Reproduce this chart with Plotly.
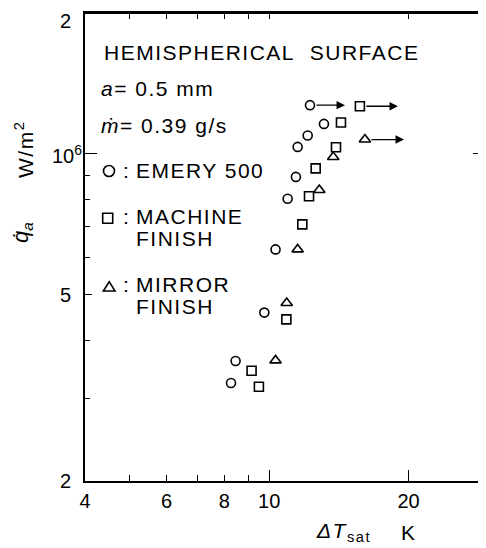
import numpy as np
import plotly.graph_objects as go

# ---------------- data ----------------
emery_dT = [12.25, 13.13, 12.11, 11.52, 11.42, 10.96, 10.32, 9.76, 8.46, 8.27]
emery_q = [1.271e6, 1.159e6, 1.095e6, 1.035e6, 8.93e5, 8.02e5, 6.25e5, 4.58e5, 3.61e5, 3.24e5]

machine_dT = [15.70, 14.29, 13.94, 12.60, 12.19, 11.79, 10.89, 9.16, 9.50]
machine_q = [1.264e6, 1.167e6, 1.033e6, 9.31e5, 8.12e5, 7.07e5, 4.43e5, 3.44e5, 3.18e5]

mirror_dT = [16.10, 13.75, 12.83, 11.52, 10.91, 10.32]
mirror_q = [1.073e6, 9.85e5, 8.37e5, 6.25e5, 4.80e5, 3.62e5]

# arrow tips (burn-out arrows) for emery, machine, mirror
arrow_tip_dT = [14.58, 18.97, 19.55]

x_tick_vals = [4, 6, 8, 10, 20]
x_tick_text = ["4", "6", "8", "10", "20"]
x_minor_vals = [5, 7, 9]
x_long_vals = [10, 20]
x_top_vals = [5, 6, 7, 8, 9, 10, 20]

y_tick_vals = [2e5, 5e5, 1e6]
y_tick_text = ["2", "5", ""]
y_minor_vals = [3e5, 4e5, 6e5, 7e5, 8e5, 9e5]
y_long_vals = [1e6]

x_range = [np.log10(4), np.log10(29.4)]
y_range = [np.log10(2e5), np.log10(2e6)]

# ---------------- geometry ----------------
OFF = 8                      # page body margin
W, H = 478, 540              # figure size (page area minus body margin)
L, R, T, B = 77, 0, 5, 67
PW, PH = W - L - R, H - T - B


def px(x):                   # page pixel -> paper
    return (x - OFF - L) / PW


def py(y):
    return (H - B - (y - OFF)) / PH


FONT = "Liberation Sans"
TF = dict(family=FONT, size=20, color="black")

fig = go.Figure()

mk = dict(color="black", line=dict(width=1.6, color="black"))
fig.add_trace(go.Scatter(x=emery_dT, y=emery_q, mode="markers",
                         marker=dict(symbol="circle-open", size=9, **mk),
                         showlegend=False, name="EMERY 500"))
fig.add_trace(go.Scatter(x=machine_dT, y=machine_q, mode="markers",
                         marker=dict(symbol="square-open", size=9, **mk),
                         showlegend=False, name="MACHINE FINISH"))
fig.add_trace(go.Scatter(x=mirror_dT, y=mirror_q, mode="markers",
                         marker=dict(symbol="triangle-up-open", size=10, **mk),
                         showlegend=False, name="MIRROR FINISH"))
# empty traces to activate overlay axes
fig.add_trace(go.Scatter(x=[], y=[], xaxis="x2", yaxis="y", showlegend=False))
fig.add_trace(go.Scatter(x=[], y=[], xaxis="x3", yaxis="y", showlegend=False))
fig.add_trace(go.Scatter(x=[], y=[], xaxis="x", yaxis="y2", showlegend=False))
fig.add_trace(go.Scatter(x=[], y=[], xaxis="x", yaxis="y3", showlegend=False))

tick_common = dict(tickcolor="black", tickwidth=1.4)

fig.update_layout(
    width=W, height=H,
    margin=dict(l=L, r=R, t=T, b=B, pad=0),
    paper_bgcolor="white", plot_bgcolor="white",
    xaxis=dict(type="log", range=x_range, showgrid=False, zeroline=False,
               tickmode="array", tickvals=x_tick_vals, ticktext=x_tick_text,
               ticks="inside", ticklen=6, **tick_common,
               showline=True, linewidth=1.8, linecolor="black", mirror=False,
               tickfont=TF, ticklabelstandoff=1,
               minor=dict(tickmode="array", tickvals=x_minor_vals, ticks="inside",
                          ticklen=6, showgrid=False, **tick_common)),
    xaxis2=dict(type="log", range=x_range, overlaying="x", anchor="y", side="bottom",
                showgrid=False, zeroline=False, tickmode="array", tickvals=x_long_vals,
                ticks="inside", ticklen=11, **tick_common,
                showticklabels=False, showline=False),
    xaxis3=dict(type="log", range=x_range, overlaying="x", anchor="y", side="top",
                showgrid=False, zeroline=False, tickmode="array", tickvals=x_top_vals,
                ticks="inside", ticklen=6, **tick_common,
                showticklabels=False, showline=True, linewidth=1.8, linecolor="black"),
    yaxis=dict(type="log", range=y_range, showgrid=False, zeroline=False,
               tickmode="array", tickvals=y_tick_vals, ticktext=y_tick_text,
               ticks="inside", ticklen=7, **tick_common,
               showline=True, linewidth=1.8, linecolor="black", mirror=False,
               tickfont=TF, ticklabelstandoff=8,
               minor=dict(tickmode="array", tickvals=y_minor_vals, ticks="inside",
                          ticklen=5, showgrid=False, **tick_common)),
    yaxis2=dict(type="log", range=y_range, overlaying="y", anchor="x", side="right",
                showgrid=False, zeroline=False, tickmode="array", tickvals=y_long_vals,
                ticks="inside", ticklen=13, **tick_common,
                showticklabels=False, showline=False,
                minor=dict(tickmode="array", tickvals=y_minor_vals, ticks="inside",
                           ticklen=5, showgrid=False, **tick_common)),
    yaxis3=dict(type="log", range=y_range, overlaying="y", anchor="x", side="left",
                showgrid=False, zeroline=False, tickmode="array", tickvals=y_long_vals,
                ticks="inside", ticklen=12, **tick_common,
                showticklabels=False, showline=False),
)

# top frame line (safety)
fig.add_shape(type="line", xref="paper", yref="paper", x0=0, x1=1, y0=1, y1=1,
              line=dict(color="black", width=1.8), layer="above")

# burn-out arrows from the last points
starts = [(emery_dT[0], emery_q[0]), (machine_dT[0], machine_q[0]), (mirror_dT[0], mirror_q[0])]
for (xs, ys), tip in zip(starts, arrow_tip_dT):
    fig.add_annotation(x=np.log10(tip), y=np.log10(ys), ax=np.log10(xs), ay=np.log10(ys),
                       xref="x", yref="y", axref="x", ayref="y", text="",
                       showarrow=True, arrowhead=2, arrowsize=1.3, arrowwidth=1.3,
                       arrowcolor="black", startstandoff=5, standoff=0)

LS = "letter-spacing:1.5px"


def txt(s, x, y, size=21, xanchor="left", angle=0, ls=True, yanchor="middle"):
    t = f'<span style="{LS}">{s}</span>' if ls else s
    fig.add_annotation(text=t, x=px(x), y=py(y), xref="paper", yref="paper",
                       xanchor=xanchor, yanchor=yanchor, showarrow=False,
                       textangle=angle, font=dict(family=FONT, size=size, color="black"))


txt("HEMISPHERICAL&nbsp;&nbsp;SURFACE", 101.5, 52)
txt("<i>a</i>= 0.5 mm", 99, 89)
txt("<i>ṁ</i>= 0.39 g/s", 99, 125)
txt(":", 125.5, 170, xanchor="center", ls=False)
txt("EMERY 500", 134, 170)
txt(":", 125.5, 216, xanchor="center", ls=False)
txt("MACHINE", 134, 216)
txt("FINISH", 134, 239)
txt(":", 125.5, 284, xanchor="center", ls=False)
txt("MIRROR", 134, 284)
txt("FINISH", 134, 306)

# y tick labels at the top (2 x 10^6) and 10^6
txt("2", 72.5, 8, size=20, xanchor="right", ls=False, yanchor="top")
txt("10<sup>6</sup>", 50, 154, size=20, ls=False)

# axis titles
txt("W/m<sup>2</sup>", 24, 150, size=21, xanchor="center", angle=-90)
txt("<i>q̇</i><sub><i>a</i></sub>", 22, 232, size=22, xanchor="center", angle=-90, ls=False)
txt("<i>ΔT</i><sub>sat</sub>", 343.5, 532, size=21, xanchor="center")
txt("K", 408.5, 532, size=21, xanchor="center")

# legend keys
line = dict(color="black", width=1.6)
fig.add_shape(type="circle", xref="paper", yref="paper",
              x0=px(103.5), x1=px(114.5), y0=py(176.5), y1=py(165.5), line=line)
fig.add_shape(type="rect", xref="paper", yref="paper",
              x0=px(102.7), x1=px(112.7), y0=py(223.3), y1=py(213.3), line=line)
fig.add_shape(type="path", xref="paper", yref="paper",
              path=f"M {px(103.3)},{py(291)} L {px(115)},{py(291)} L {px(109.2)},{py(281.7)} Z",
              line=line)

fig.write_html("out.html")
